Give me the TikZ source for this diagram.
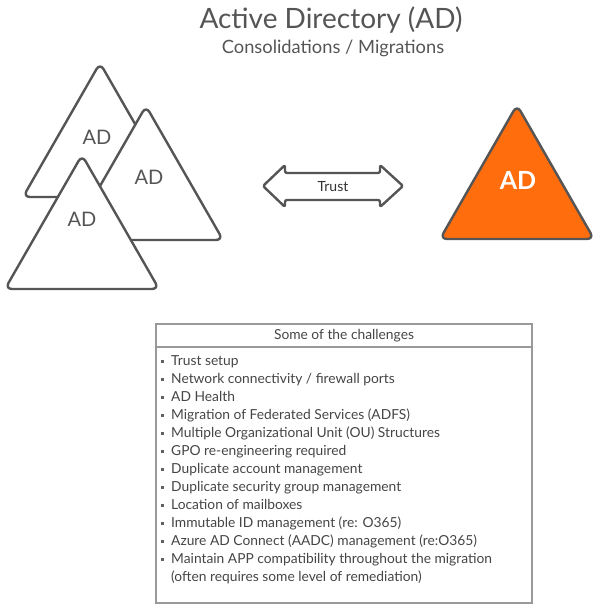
\documentclass[tikz,border=0pt]{standalone}
\usepackage{fontspec}
\setmainfont{Lato}
\usetikzlibrary{positioning}
\definecolor{adgray}{HTML}{555555}
\definecolor{adorange}{HTML}{FF6D0D}
\definecolor{boxgray}{HTML}{9A9A9A}
\definecolor{txtgray}{HTML}{454545}

\begin{document}
\begin{tikzpicture}[x=1pt,y=-1pt,every node/.style={inner sep=0pt},
  tri/.style={draw=adgray,line width=2.4pt,rounded corners=7pt,fill=white,line join=round},
  adlabel/.style={font=\fontsize{20}{24}\selectfont,text=adgray},
  item/.style={anchor=base west,font=\fontsize{13.8}{16}\selectfont,text=txtgray}]
\useasboundingbox (0,0) rectangle (600,604);
% heading
\node[font=\fontsize{28}{32}\selectfont,text=adgray] (title) at (331,20) {Active Directory (AD)};
\node[font=\fontsize{18.3}{21}\selectfont,text=adgray] (subtitle) at (333,48) {Consolidations / Migrations};
% source forests
\draw[tri] (100,63) -- ++(77,134) -- ++(-154,0) -- cycle;
\node[adlabel] (ad1) at (97,137) {AD};
\draw[tri] (146,106) -- ++(77,134) -- ++(-154,0) -- cycle;
\node[adlabel] (ad2) at (149,177) {AD};
\draw[tri] (82,155) -- ++(77,134) -- ++(-154,0) -- cycle;
\node[adlabel] (ad3) at (82,219) {AD};
% target forest
\draw[tri,fill=adorange] (517,105) -- ++(77,134) -- ++(-154,0) -- cycle;
\node[adlabel,font=\fontsize{25}{28}\selectfont\bfseries,text=white] (adtarget) at (518,180) {AD};
% trust arrow
\draw[draw=adgray,line width=2.4pt,rounded corners=2pt,fill=white,line join=round]
  (263,186) -- (285,165) -- (285,173) -- (380,173) -- (380,165) -- (403,186)
  -- (380,207) -- (380,200) -- (285,200) -- (285,207) -- cycle;
\node[font=\fontsize{14}{16}\selectfont,text=black!80] (trust) at (333,187) {Trust};
% challenges box
\draw[boxgray,line width=1.3pt] (156,324) rectangle (532,603);
\draw[boxgray,line width=1.3pt] (156,347) -- (532,347);
\node[font=\fontsize{13.8}{16}\selectfont,text=txtgray] (boxhead) at (344,336) {Some of the challenges};
\foreach \txt [count=\i from 0] in {Trust setup,
    Network connectivity / firewall ports,
    AD Health,
    Migration of Federated Services (ADFS),
    Multiple Organizational Unit (OU) Structures,
    GPO re-engineering required,
    Duplicate account management,
    Duplicate security group management,
    Location of mailboxes,
    Immutable ID management (re: O365),
    Azure AD Connect (AADC) management (re:O365),
    Maintain APP compatibility throughout the migration}{
  \fill[txtgray!85] (160.5,360+18*\i) rectangle ++(3.2,3.2);
  \node[item] (item\i) at (171,365+18*\i) {\txt};
}
\node[item] (itemrest) at (171,365+18*12) {(often requires some level of remediation)};
\end{tikzpicture}
\end{document}
